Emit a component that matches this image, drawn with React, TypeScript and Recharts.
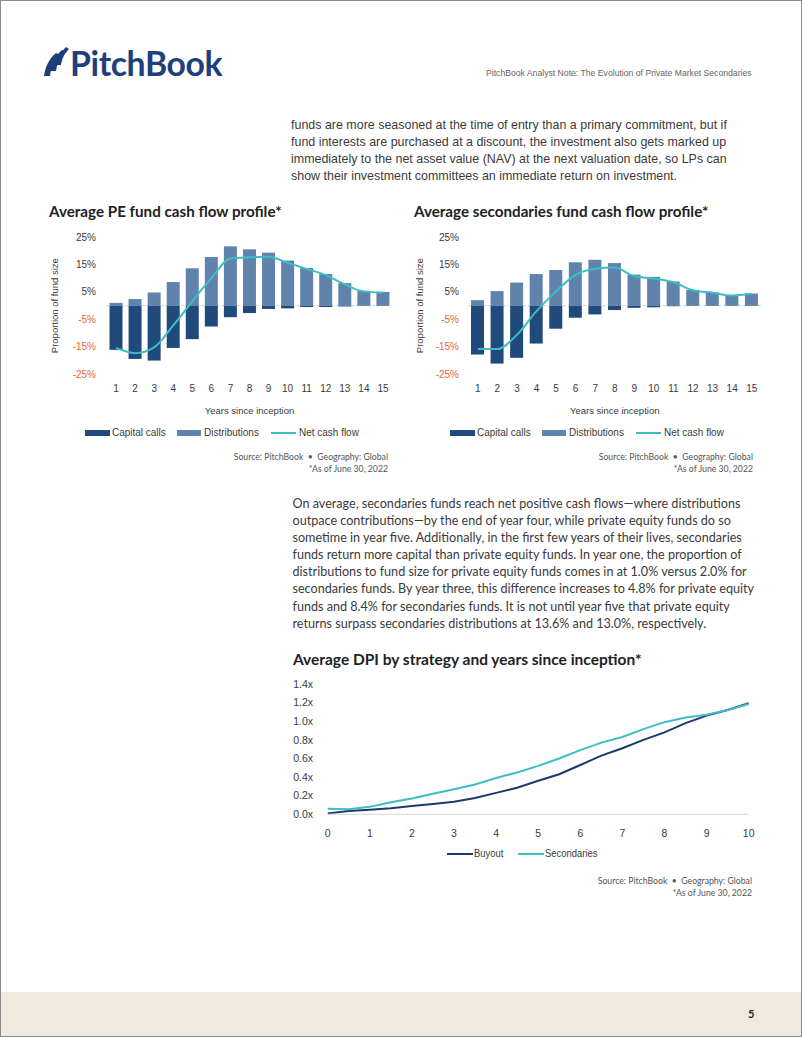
import React from "react";
import { ComposedChart, LineChart, Bar, Line, XAxis, YAxis, CartesianGrid } from "recharts";

const years = [1, 2, 3, 4, 5, 6, 7, 8, 9, 10, 11, 12, 13, 14, 15];
const peCalls = [-16.1, -19.4, -20.0, -15.4, -12.2, -7.6, -4.2, -2.7, -1.2, -1.0, -0.5, -0.5, -0.3, -0.1, -0.1];
const peDistributions = [1.0, 2.4, 4.8, 8.6, 13.6, 17.7, 21.6, 20.5, 19.3, 16.4, 13.7, 11.5, 8.2, 5.3, 5.0];
const peNet = [-15.4, -17.3, -15.2, -7.2, 1.6, 10.0, 17.2, 17.6, 17.8, 15.6, 13.4, 11.1, 7.7, 5.2, 4.8];

const secCalls = [-17.8, -21.1, -19.0, -13.8, -8.4, -4.4, -3.2, -1.6, -0.8, -0.6, -0.2, -0.1, -0.1, -0.1, -0.1];
const secDistributions = [2.0, 5.3, 8.4, 11.5, 13.0, 15.8, 16.7, 15.5, 11.3, 10.5, 8.8, 5.7, 4.8, 3.8, 4.4];
const secNet = [-15.8, -15.8, -10.6, -2.0, 5.2, 11.2, 13.4, 13.9, 10.7, 9.9, 8.5, 5.6, 4.7, 3.7, 4.3];

const pctTicks = [-25, -15, -5, 5, 15, 25];

const dpiYears = [0, 0.5, 1, 1.5, 2, 2.5, 3, 3.5, 4, 4.5, 5, 5.5, 6, 6.5, 7, 7.5, 8, 8.5, 9, 9.5, 10];
const buyoutDpi = [0.01, 0.035, 0.05, 0.065, 0.09, 0.11, 0.135, 0.175, 0.23, 0.285, 0.36, 0.43, 0.53, 0.63, 0.71, 0.8, 0.88, 0.98, 1.06, 1.12, 1.195];
const secondariesDpi = [0.06, 0.055, 0.08, 0.13, 0.17, 0.22, 0.27, 0.32, 0.39, 0.45, 0.52, 0.6, 0.69, 0.77, 0.83, 0.915, 0.99, 1.04, 1.07, 1.12, 1.185];
const dpiTicks = [0, 0.2, 0.4, 0.6, 0.8, 1.0, 1.2, 1.4];
const dpiYearTicks = [0, 1, 2, 3, 4, 5, 6, 7, 8, 9, 10];

const CALLS = "#1f4a7b";
const DISTS = "#5f83ab";
const TEAL = "#3dbdc6";
const NAVY = "#1b3a6b";
const NEG = "#e8643c";
const TXT = "#3a3a3a";
const NARROW = '"Liberation Sans Narrow", "Liberation Sans", sans-serif';
const SANS = 'Lato, "Open Sans", sans-serif';

const peData = years.map((y, i) => ({ year: y, calls: peCalls[i], dists: peDistributions[i], net: peNet[i] }));
const secData = years.map((y, i) => ({ year: y, calls: secCalls[i], dists: secDistributions[i], net: secNet[i] }));
const dpiData = dpiYears.map((y, i) => ({ year: y, buyout: buyoutDpi[i], secondaries: secondariesDpi[i] }));

const PctTick = (props: any) => {
  const { x, y, payload } = props;
  const v = payload.value;
  return (
    <text x={x} y={y} dy="0.35em" textAnchor="end" fill={v < 0 ? NEG : TXT} fontSize={10} fontFamily={NARROW}>
      {v}%
    </text>
  );
};

const abs = (left: number, top: number): React.CSSProperties => ({ position: "absolute", left, top });
const squeeze = (k: number, origin = "left"): React.CSSProperties => ({ transform: `scaleX(${k})`, transformOrigin: origin });

function CashChart({ data, left, yWidth, right, gap }: { data: any[]; left: number; yWidth: number; right: number; gap: number }) {
  return (
    <div style={abs(left, 226)}>
      <ComposedChart width={360} height={200} data={data} stackOffset="sign" margin={{ top: 10, right, left: 0, bottom: 0 }}>
        <CartesianGrid vertical={false} horizontalValues={[0]} stroke="#d9cccc" strokeDasharray="3 2" />
        <XAxis
          dataKey="year"
          axisLine={false}
          tickLine={false}
          tickSize={0}
          tickMargin={11}
          height={52.7}
          interval={0}
          tick={{ fill: TXT, fontSize: 10, fontFamily: NARROW }}
          label={{ value: "Years since inception", position: "insideBottom", offset: 13, fill: TXT, fontSize: 9.5, fontFamily: NARROW }}
        />
        <YAxis
          width={yWidth}
          domain={[-25, 25]}
          ticks={pctTicks}
          axisLine={false}
          tickLine={false}
          tickSize={0}
          tickMargin={gap}
          tick={<PctTick />}
          label={{ value: "Proportion of fund size", angle: -90, position: "insideLeft", offset: 14, fill: TXT, fontSize: 9.5, fontFamily: NARROW, style: { textAnchor: "middle" } }}
        />
        <Bar dataKey="dists" stackId="a" fill={DISTS} barSize={13} isAnimationActive={false} />
        <Bar dataKey="calls" stackId="a" fill={CALLS} barSize={13} isAnimationActive={false} />
        <Line dataKey="net" type="monotone" stroke={TEAL} strokeWidth={2} dot={false} isAnimationActive={false} />
      </ComposedChart>
    </div>
  );
}

const legendText: React.CSSProperties = { position: "absolute", fontFamily: NARROW, fontSize: 10.5, color: TXT, lineHeight: "13px", whiteSpace: "nowrap", ...squeeze(0.95) };

function CashLegend({ left }: { left: number }) {
  const t: React.CSSProperties = { ...legendText, top: 425 };
  return (
    <>
      <div style={{ position: "absolute", left: left + 44, top: 429, width: 25, height: 6, background: CALLS }} />
      <div style={{ ...t, left: left + 71 }}>Capital calls</div>
      <div style={{ position: "absolute", left: left + 136, top: 429, width: 24, height: 6, background: DISTS }} />
      <div style={{ ...t, left: left + 162.5 }}>Distributions</div>
      <div style={{ position: "absolute", left: left + 230, top: 431, width: 25, height: 2, background: TEAL }} />
      <div style={{ ...t, left: left + 257.5 }}>Net cash flow</div>
    </>
  );
}

function Source({ right, top }: { right: number; top: number }) {
  return (
    <div style={{ position: "absolute", right: 802 - right, top, textAlign: "right", fontFamily: SANS, fontSize: 8.7, color: "#555", lineHeight: "11.5px", whiteSpace: "nowrap" }}>
      <div>Source: PitchBook &nbsp;•&nbsp; Geography: Global</div>
      <div>*As of June 30, 2022</div>
    </div>
  );
}

const para1 = [
  "funds are more seasoned at the time of entry than a primary commitment, but if",
  "fund interests are purchased at a discount, the investment also gets marked up",
  "immediately to the net asset value (NAV) at the next valuation date, so LPs can",
  "show their investment committees an immediate return on investment.",
];

const para2 = [
  "On average, secondaries funds reach net positive cash flows—where distributions",
  "outpace contributions—by the end of year four, while private equity funds do so",
  "sometime in year five. Additionally, in the first few years of their lives, secondaries",
  "funds return more capital than private equity funds. In year one, the proportion of",
  "distributions to fund size for private equity funds comes in at 1.0% versus 2.0% for",
  "secondaries funds. By year three, this difference increases to 4.8% for private equity",
  "funds and 8.4% for secondaries funds. It is not until year five that private equity",
  "returns surpass secondaries distributions at 13.6% and 13.0%, respectively.",
];

const titleStyle: React.CSSProperties = { position: "absolute", fontFamily: SANS, fontWeight: 700, fontSize: 15.2, color: "#222", lineHeight: "18px", whiteSpace: "nowrap" };

export default function App() {
  return (
    <div
      style={{
        position: "absolute",
        left: 0,
        top: 0,
        width: 802,
        height: 1037,
        boxSizing: "border-box",
        border: "1px solid #8c8c8c",
        background: "#fff",
        overflow: "hidden",
      }}
    >
      {/* header */}
      <svg style={abs(42, 45)} width={27} height={31} viewBox="0 0 27 31">
        <path d="M1 30 C2 21 6 13 13 7 L17 9 C11 15 8 22 7 30 Z" fill="#1e3f7c" />
        <path d="M7 25 C8 17 12 10 19 4 L23 6 C17 12 14 18 13 25 Z" fill="#1e3f7c" />
        <path d="M13 19 C14 13 17 7 23 1 L26 3 C21 8 19 13 18 19 Z" fill="#1e3f7c" />
      </svg>
      <div style={{ ...abs(69, 40.5), fontFamily: SANS, fontWeight: 700, fontSize: 33.8, color: "#1e3f7c", lineHeight: "42px", letterSpacing: -0.4 }}>PitchBook</div>
      <div style={{ position: "absolute", right: 49, top: 66, fontFamily: NARROW, fontSize: 9.3, color: "#666", lineHeight: "12px", whiteSpace: "nowrap", ...squeeze(0.93, "right") }}>
        PitchBook Analyst Note: The Evolution of Private Market Secondaries
      </div>

      <div style={{ ...abs(290, 114.5), fontFamily: NARROW, fontSize: 13.5, color: TXT, lineHeight: "17.2px", ...squeeze(0.922) }}>
        {para1.map((l) => (
          <div key={l} style={{ whiteSpace: "nowrap" }}>{l}</div>
        ))}
      </div>

      {/* cash flow charts */}
      <div style={{ ...titleStyle, left: 48, top: 201 }}>Average PE fund cash flow profile*</div>
      <div style={{ ...titleStyle, left: 413, top: 201 }}>Average secondaries fund cash flow profile*</div>
      <CashChart data={peData} left={40} yWidth={65.5} right={8.5} gap={10.5} />
      <CashChart data={secData} left={405} yWidth={62} right={4.5} gap={9} />
      <CashLegend left={40} />
      <CashLegend left={405} />
      <Source right={389} top={450} />
      <Source right={754} top={450} />

      <div style={{ ...abs(291.5, 494), fontFamily: SANS, fontSize: 12.6, color: TXT, lineHeight: "17.1px" }}>
        {para2.map((l) => (
          <div key={l} style={{ whiteSpace: "nowrap" }}>{l}</div>
        ))}
      </div>

      {/* DPI chart */}
      <div style={{ ...titleStyle, left: 292, top: 649, fontSize: 15.5 }}>Average DPI by strategy and years since inception*</div>
      <div style={abs(280, 672)}>
        <LineChart width={480} height={175} data={dpiData} margin={{ top: 11, right: 12.3, left: 0, bottom: 0 }}>
          <XAxis
            dataKey="year"
            type="number"
            domain={[0, 10]}
            ticks={dpiYearTicks}
            axisLine={{ stroke: "#d6d6d6" }}
            tickLine={false}
            tickSize={0}
            tickMargin={14.8}
            height={33.7}
            tick={{ fill: TXT, fontSize: 10.5, fontFamily: NARROW }}
          />
          <YAxis
            width={46.7}
            domain={[0, 1.4]}
            ticks={dpiTicks}
            axisLine={false}
            tickLine={false}
            tickSize={0}
            tickMargin={14.7}
            tickFormatter={(v: number) => `${v.toFixed(1)}x`}
            tick={{ fill: TXT, fontSize: 10.5, fontFamily: NARROW }}
          />
          <Line dataKey="buyout" type="linear" stroke={NAVY} strokeWidth={2} dot={false} isAnimationActive={false} />
          <Line dataKey="secondaries" type="linear" stroke={TEAL} strokeWidth={2} dot={false} isAnimationActive={false} />
        </LineChart>
      </div>
      <div style={{ position: "absolute", left: 445.7, top: 852, width: 26, height: 2, background: NAVY }} />
      <div style={{ ...legendText, left: 473.3, top: 846, ...squeeze(0.9) }}>Buyout</div>
      <div style={{ position: "absolute", left: 517.3, top: 852, width: 26, height: 2, background: TEAL }} />
      <div style={{ ...legendText, left: 544.3, top: 846, ...squeeze(0.9) }}>Secondaries</div>
      <Source right={753} top={874} />

      {/* footer */}
      <div style={{ position: "absolute", left: 0, top: 991, width: 802, height: 46, background: "#f0e9df" }} />
      <div style={{ position: "absolute", left: 747, top: 1006, fontFamily: SANS, fontWeight: 700, fontSize: 11, color: "#2a2a2a" }}>5</div>
    </div>
  );
}
